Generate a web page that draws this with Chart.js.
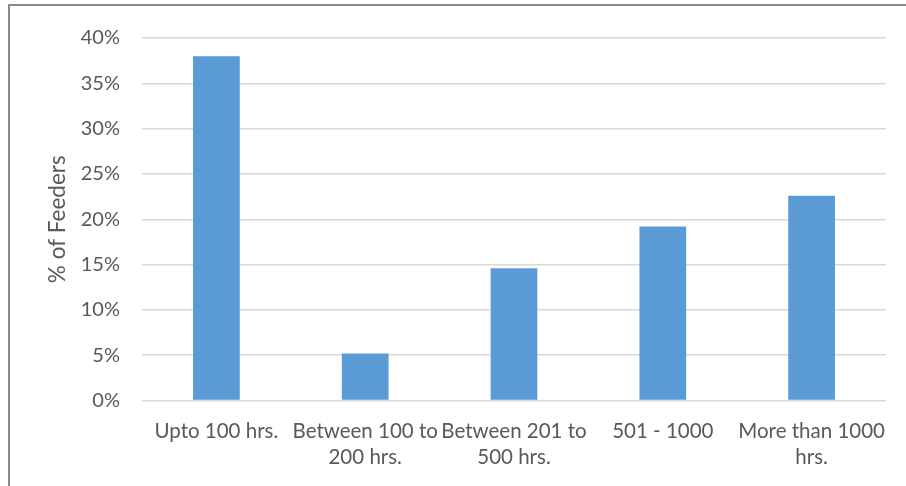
<!DOCTYPE html>
<html>
<head>
<meta charset="utf-8">
<script src="https://cdn.jsdelivr.net/npm/chart.js@4/dist/chart.umd.min.js"></script>
<style>
  html, body { margin: 0; padding: 0; background: #ffffff; }
  #wrap { position: relative; width: 906px; height: 486px; overflow: hidden; }
  #frame {
    position: absolute; left: 8px; top: 4px; right: -4px; bottom: -4px;
    border-left: 2px solid #8a8a8a; border-top: 2px solid #8a8a8a;
    pointer-events: none;
  }
  canvas { position: absolute; left: 0; top: 0; }
</style>
</head>
<body>
<div id="wrap">
  <canvas id="chart" width="906" height="486"></canvas>
  <div id="frame"></div>
</div>
<script>
// Outage duration buckets and share of feeders (%)
const categories = [
  ['Upto 100 hrs.'],
  ['Between 100 to', '200 hrs.'],
  ['Between 201 to', '500 hrs.'],
  ['501 - 1000'],
  ['More than 1000', 'hrs.']
];
const feederShare = [38.0, 5.2, 14.6, 19.2, 22.6];
const yTicks = [0, 5, 10, 15, 20, 25, 30, 35, 40];
const yTitle = '% of Feeders';

const textColor = '#595959';
const fontFamily = 'Lato, "Noto Sans", sans-serif';

new Chart(document.getElementById('chart'), {
  type: 'bar',
  data: {
    labels: categories,
    datasets: [{
      data: feederShare,
      backgroundColor: '#5b9bd5',
      borderWidth: 0,
      categoryPercentage: 1,
      barPercentage: 0.314
    }]
  },
  options: {
    responsive: false,
    animation: false,
    layout: { padding: { top: 38, right: 20, bottom: 0, left: 0 } },
    plugins: { legend: { display: false }, tooltip: { enabled: false } },
    scales: {
      x: {
        grid: { display: false, drawTicks: false },
        border: { display: false },
        ticks: {
          color: textColor,
          font: { family: fontFamily, size: 20.5, lineHeight: 1.27 },
          padding: 18,
          autoSkip: false,
          maxRotation: 0,
          minRotation: 0
        },
        afterFit: (scale) => { scale.height = 486 - 400.5; }
      },
      y: {
        min: 0,
        max: 40,
        afterBuildTicks: (scale) => { scale.ticks = yTicks.map(v => ({ value: v })); },
        grid: { color: '#d9d9d9', lineWidth: 1.5, drawTicks: false },
        border: { display: false },
        ticks: {
          color: textColor,
          font: { family: fontFamily, size: 20 },
          padding: 22,
          callback: (v) => v + '%'
        },
        title: {
          display: true,
          text: yTitle,
          color: textColor,
          font: { family: fontFamily, size: 22.5 },
          padding: { top: 44, bottom: 0 }
        },
        afterFit: (scale) => { scale.width = 142; }
      }
    }
  }
});
</script>
</body>
</html>
